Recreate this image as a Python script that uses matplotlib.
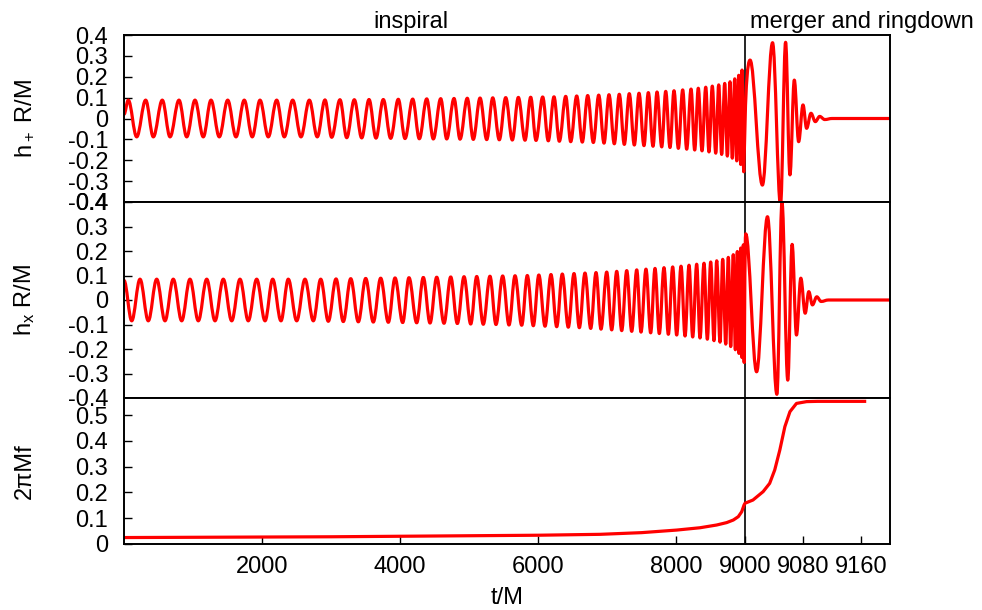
import numpy as np
import matplotlib
matplotlib.use('Agg')
import matplotlib.pyplot as plt
from matplotlib.path import Path
from matplotlib.patches import PathPatch

plt.rcParams['font.family'] = ['Liberation Sans', 'DejaVu Sans']
plt.rcParams['mathtext.fontset'] = 'custom'
plt.rcParams['mathtext.rm'] = 'Liberation Sans'
plt.rcParams['mathtext.it'] = 'Liberation Sans:italic'
plt.rcParams['axes.unicode_minus'] = False

# h+ : extrema (t/M, h+ R/M)
hp_t = [0,
        62, 184, 314, 425, 555, 667, 797, 909, 1029, 1149, 1261, 1381,
        1503, 1623, 1743, 1859, 1971, 2091, 2213, 2323, 2445, 2565, 2686, 2801,
        2913, 3010, 3130, 3228, 3338, 3445, 3551, 3652, 3758, 3865, 3975, 4073,
        4184, 4280, 4387, 4483, 4590, 4677, 4783, 4870, 4975, 5062, 5160, 5257,
        5344, 5439, 5532, 5628, 5715, 5812, 5894, 5971,
        6068, 6149, 6232, 6309, 6402, 6474, 6561, 6642, 6720, 6802, 6880, 6957,
        7029, 7106, 7178, 7251, 7323, 7396, 7464, 7536, 7599, 7667, 7725, 7793,
        7851, 7913, 7971, 8034, 8097, 8155, 8218, 8271, 8323, 8377, 8431, 8478,
        8526, 8576, 8619, 8662, 8706, 8744, 8783, 8816, 8851, 8880, 8909, 8938,
        8957, 8981,
        9007, 9024, 9038, 9049, 9056, 9062, 9068, 9074, 9080, 9085, 9091, 9097,
        9103, 9110,
        9120, 9200]
hp_v = [0.02,
        0.088, -0.088, 0.088, -0.088, 0.088, -0.088, 0.088, -0.088, 0.088, -0.088, 0.088, -0.088,
        0.088, -0.088, 0.088, -0.088, 0.088, -0.088, 0.088, -0.088, 0.088, -0.088, 0.088, -0.088,
        0.089, -0.09, 0.09, -0.092, 0.09, -0.093, 0.091, -0.094, 0.091, -0.095, 0.092, -0.096,
        0.093, -0.097, 0.094, -0.098, 0.095, -0.098, 0.096, -0.099, 0.097, -0.1, 0.098, -0.101,
        0.099, -0.102, 0.1, -0.103, 0.101, -0.104, 0.102, -0.105,
        0.103, -0.107, 0.104, -0.109, 0.106, -0.111, 0.108, -0.113, 0.11, -0.115, 0.112, -0.118,
        0.114, -0.121, 0.116, -0.124, 0.119, -0.127, 0.121, -0.13, 0.124, -0.133, 0.127, -0.136,
        0.13, -0.139, 0.133, -0.143, 0.137, -0.147, 0.141, -0.151, 0.145, -0.155, 0.15, -0.16,
        0.155, -0.166, 0.161, -0.172, 0.168, -0.18, 0.176, -0.19, 0.19, -0.203, 0.207, -0.22,
        0.232, -0.255,
        0.28, -0.319, 0.363, -0.415, 0.365, -0.27, 0.184, -0.111, 0.065, -0.047, 0.025, -0.015,
        0.01, -0.005,
        0.0, 0.0]

# h_x : extrema
hx_t = [0,
        112, 232, 352, 474, 594, 714, 836, 956, 1077, 1199, 1319, 1439,
        1561, 1681, 1801, 1923, 2044, 2155, 2275, 2381, 2503, 2623, 2744, 2851,
        2961, 3073, 3178, 3286, 3396, 3503, 3613, 3720, 3831, 3928, 4039, 4130,
        4242, 4338, 4435, 4532, 4638, 4735, 4831, 4928, 5025, 5112, 5207, 5304,
        5391, 5488, 5580, 5667, 5764, 5845, 5932, 6012,
        6102, 6188, 6271, 6352, 6439, 6522, 6599, 6681, 6764, 6841, 6913, 6996,
        7068, 7141, 7213, 7286, 7358, 7431, 7493, 7565, 7633, 7696, 7758, 7826,
        7889, 7952, 8010, 8073, 8131, 8189, 8242, 8300, 8348, 8406, 8454, 8503,
        8551, 8590, 8638, 8677, 8721, 8758, 8793, 8830, 8860, 8889, 8913, 8938,
        8957, 8976,
        8988, 9001, 9016, 9031, 9044, 9051, 9059, 9065, 9071, 9077, 9083, 9088,
        9093, 9099, 9105, 9115,
        9200]
hx_v = [0.08,
        -0.085, 0.085, -0.085, 0.085, -0.085, 0.085, -0.085, 0.085, -0.085, 0.085, -0.085, 0.085,
        -0.085, 0.085, -0.085, 0.085, -0.085, 0.085, -0.085, 0.085, -0.085, 0.085, -0.085, 0.085,
        -0.087, 0.086, -0.088, 0.087, -0.089, 0.088, -0.09, 0.089, -0.091, 0.09, -0.092, 0.091,
        -0.093, 0.092, -0.094, 0.093, -0.095, 0.094, -0.096, 0.095, -0.098, 0.096, -0.099, 0.097,
        -0.1, 0.098, -0.102, 0.099, -0.103, 0.1, -0.105, 0.102,
        -0.107, 0.104, -0.109, 0.106, -0.111, 0.108, -0.113, 0.11, -0.116, 0.112, -0.119, 0.114,
        -0.122, 0.117, -0.125, 0.12, -0.128, 0.123, -0.131, 0.126, -0.134, 0.129, -0.137, 0.132,
        -0.14, 0.135, -0.143, 0.138, -0.147, 0.142, -0.151, 0.146, -0.155, 0.15, -0.16, 0.155,
        -0.166, 0.16, -0.172, 0.166, -0.18, 0.174, -0.19, 0.185, -0.203, 0.198, -0.218, 0.212,
        -0.235, 0.225,
        -0.255, 0.27, -0.293, 0.34, -0.385, 0.398, -0.327, 0.227, -0.143, 0.089, -0.054, 0.034,
        -0.02, 0.013, -0.006, 0.0,
        0.0]

# 2 pi M f
f_t = [0, 1000, 2000, 3000, 4000, 5000, 6000, 6900, 7500, 8010, 8348, 8589,
       8735, 8831, 8903, 8952, 8986, 9000, 9011, 9025, 9034, 9041, 9048, 9055,
       9062, 9071, 9085, 9100, 9165]
f_v = [0.025, 0.026, 0.027, 0.028, 0.030, 0.032, 0.034, 0.0375, 0.044, 0.054, 0.063, 0.0736,
       0.083, 0.093, 0.106, 0.125, 0.151, 0.158, 0.1705, 0.203, 0.235, 0.287, 0.364, 0.455,
       0.513, 0.545, 0.552, 0.553, 0.553]

x_ticks = [2000, 4000, 6000, 8000, 9000, 9080, 9160]
h_ticks = [-0.4, -0.3, -0.2, -0.1, 0, 0.1, 0.2, 0.3, 0.4]
h_labels = ['-0.4', '-0.3', '-0.2', '-0.1', '0', '0.1', '0.2', '0.3', '0.4']
f_ticks = [0, 0.1, 0.2, 0.3, 0.4, 0.5]
f_labels = ['0', '0.1', '0.2', '0.3', '0.4', '0.5']


# piecewise time axis: 0-9000 squeezed, 9000-9200 stretched
def fwd(t):
    t = np.asarray(t, dtype=float)
    return np.where(t <= 9000, t / 9000 * 621, 621 + (t - 9000) / 200 * 145)


def inv(u):
    u = np.asarray(u, dtype=float)
    return np.where(u <= 621, u / 621 * 9000, 9000 + (u - 621) / 145 * 200)


def wave_path(ts, vs, k=0.3642):
    # smooth curve through the extrema, flat at each peak/trough
    verts = [(ts[0], vs[0])]
    codes = [Path.MOVETO]
    for i in range(1, len(ts)):
        dt = ts[i] - ts[i - 1]
        verts += [(ts[i - 1] + k * dt, vs[i - 1]), (ts[i] - k * dt, vs[i]), (ts[i], vs[i])]
        codes += [Path.CURVE4] * 3
    return Path(verts, codes)


W, H = 982, 610
fig = plt.figure(figsize=(W / 100, H / 100), dpi=100)

rows = [(35, 202), (202, 398), (398, 544)]
axes = []
for top, bot in rows:
    ax = fig.add_axes([124 / W, 1 - bot / H, 766 / W, (bot - top) / H])
    ax.set_xscale('function', functions=(fwd, inv))
    ax.axvline(9000, color='black', lw=1.2, zorder=1)
    for s in ax.spines.values():
        s.set_linewidth(1.4)
    ax.tick_params(direction='in', length=5.8, width=1.0, labelsize=17,
                   top=False, right=False, pad=11.5)
    ax.tick_params(axis='x', pad=8.5)
    axes.append(ax)

ax1, ax2, ax3 = axes

for ax, ts, vs in ((ax1, hp_t, hp_v), (ax2, hx_t, hx_v)):
    ax.add_patch(PathPatch(wave_path(ts, vs), fill=False, edgecolor='red', lw=2.3,
                           joinstyle='round', capstyle='round', zorder=2))
ax3.plot(f_t, f_v, color='red', lw=2.3, solid_joinstyle='round', zorder=2)

for ax in (ax1, ax2):
    ax.set_ylim(-0.4, 0.4)
    ax.set_yticks(h_ticks)
    ax.set_yticklabels(h_labels)
    ax.tick_params(axis='x', bottom=False, labelbottom=False)

ax3.set_ylim(0, 0.566)
ax3.set_yticks(f_ticks)
ax3.set_yticklabels(f_labels)

for ax in axes:
    ax.set_xlim(0, 9200)
    ax.set_xticks(x_ticks)
    ax.xaxis.set_minor_locator(matplotlib.ticker.NullLocator())
ax3.set_xticklabels([str(v) for v in x_ticks])

fig.text(25 / W, 1 - 118.5 / H, 'h$_+$ R/M', rotation=90, ha='center', va='center', fontsize=17)
fig.text(25 / W, 1 - 300 / H, 'h$_\\mathrm{x}$ R/M', rotation=90, ha='center', va='center', fontsize=17)
fig.text(25 / W, 1 - 471 / H, '2\u03c0Mf', rotation=90, ha='center', va='center', fontsize=17)

fig.text(411 / W, 1 - 28 / H, 'inspiral', ha='center', va='baseline', fontsize=17)
fig.text(862 / W, 1 - 28 / H, 'merger and ringdown', ha='center', va='baseline', fontsize=17)
fig.text(507 / W, 1 - 604 / H, 't/M', ha='center', va='baseline', fontsize=17)

fig.savefig('out.png', dpi=100)
